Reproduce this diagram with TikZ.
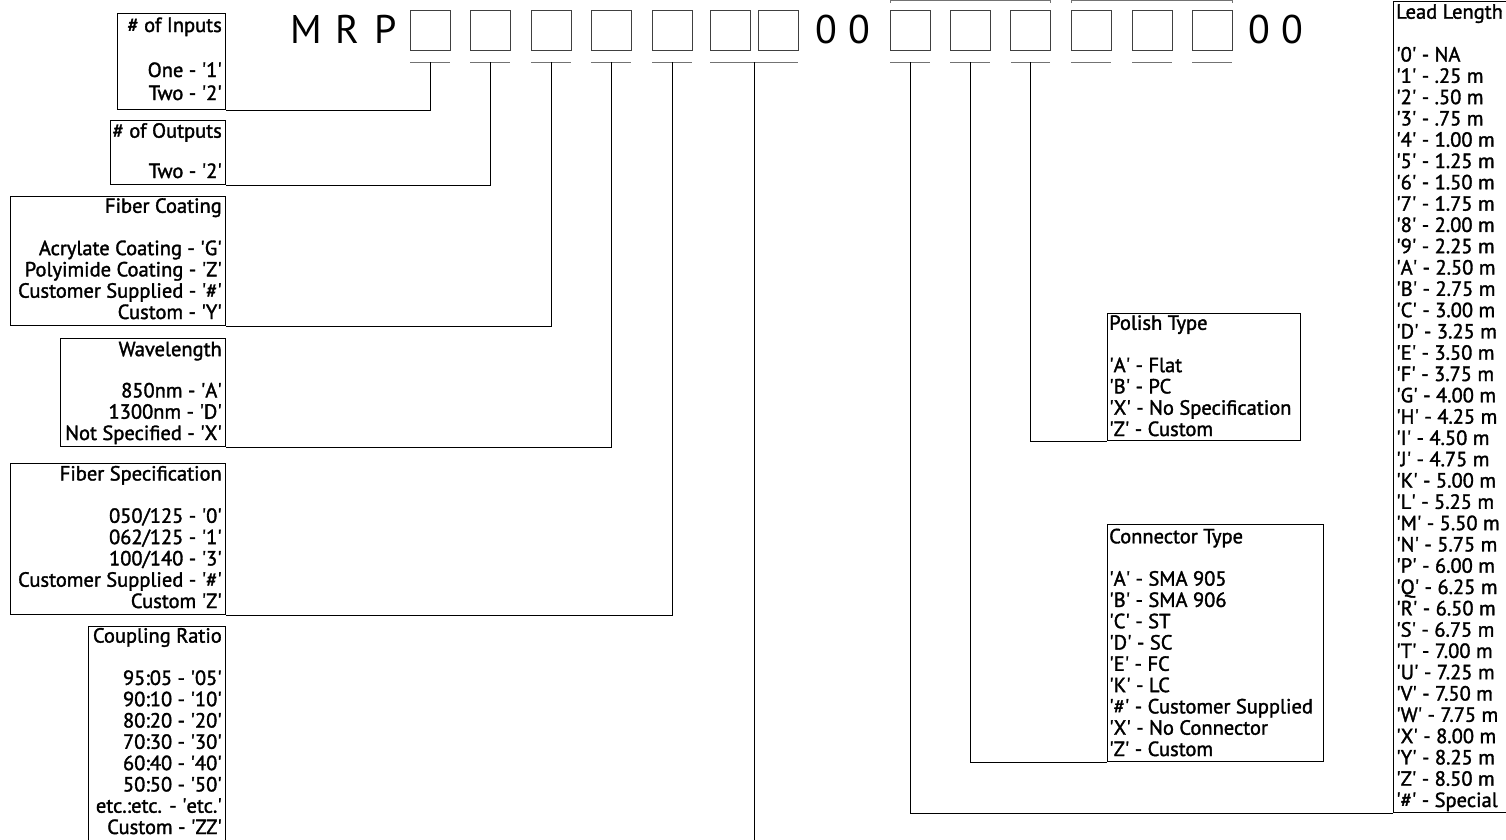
\documentclass[tikz,border=0pt]{standalone}
\usepackage{fontspec}
\newfontfamily\lab{PT Sans}[FakeBold=1.6]
\newfontfamily\labbig{PT Sans}
\newcommand\qq[1]{\textquotesingle#1\textquotesingle}
\tikzset{
  lbl/.style={font=\lab\fontsize{20.5}{21.3}\selectfont, inner sep=0pt},
  big/.style={font=\labbig\fontsize{40}{40}\selectfont, inner sep=0pt, anchor=base west},
  codebox/.style={draw=black!75, line width=1pt, minimum width=40pt, minimum height=40pt, inner sep=0pt},
  infobox/.style={draw=black, line width=1pt, inner sep=0pt, anchor=north west},
  wire/.style={draw=black, line width=1pt},
  uline/.style={draw=black!55, line width=1pt},
}
\begin{document}
\begin{tikzpicture}[x=1pt,y=-1pt]
\useasboundingbox (0,0) rectangle (1506,839);
\clip (0,0) rectangle (1506,839);
% title
\node[big] (mrp) at (290,43) {M\hspace{14pt}R\hspace{15pt}P};
\node[big] (z1) at (815,43) {0\hspace{11pt}0};
\node[big] (z2) at (1248,43) {0\hspace{11pt}0};
% code squares
\node[codebox] (c1) at (430,30) {};
\node[codebox] (c2) at (490,30) {};
\node[codebox] (c3) at (551,30) {};
\node[codebox] (c4) at (611,30) {};
\node[codebox] (c5) at (672,30) {};
\node[codebox] (c6) at (730,30) {};
\node[codebox] (c7) at (778,30) {};
\node[codebox] (c8) at (910,30) {};
\node[codebox] (c9) at (970,30) {};
\node[codebox] (c10) at (1030,30) {};
\node[codebox] (c11) at (1091,30) {};
\node[codebox] (c12) at (1152,30) {};
\node[codebox] (c13) at (1212,30) {};
% underlines
\foreach \a/\b in {410/450,470/510,531/571,591/631,652/692,710/798,890/930,950/990,1011/1050,1071/1111,1132/1172,1192/1232}
  \draw[uline] (\a,62) -- (\b,62);
\coordinate (u1) at (430,62);
\coordinate (u2) at (490,62);
\coordinate (u3) at (551,62);
\coordinate (u4) at (611,62);
\coordinate (u5) at (672,62);
\coordinate (u6) at (754,62);
\coordinate (u8) at (910,62);
\coordinate (u9) at (970,62);
\coordinate (u10) at (1030,62);
\coordinate (cend) at (754,850);
% partial brackets at the top edge
\draw[uline] (890,3) -- (890,0.5) -- (1050,0.5) -- (1050,3);
\draw[uline] (1071,3) -- (1071,0.5) -- (1232,0.5) -- (1232,3);
% info boxes
\node[infobox, minimum width=108pt, minimum height=96pt] (inputs) at (117,13) {};
\node[infobox, minimum width=115pt, minimum height=64pt] (outputs) at (110,120) {};
\node[infobox, minimum width=215pt, minimum height=129pt] (coating) at (10,196) {};
\node[infobox, minimum width=165pt, minimum height=108pt] (wave) at (60,338) {};
\node[infobox, minimum width=215pt, minimum height=151pt] (spec) at (10,463) {};
\node[infobox, minimum width=137pt, minimum height=230pt] (coupling) at (88,626) {};
\node[infobox, minimum width=193pt, minimum height=127pt] (polish) at (1107,313) {};
\node[infobox, minimum width=216pt, minimum height=237pt] (conn) at (1107,524) {};
\node[infobox, minimum width=130pt, minimum height=811pt] (lead) at (1393,1) {};
% connectors
\draw[wire] (u1) |- (inputs.south east);
\draw[wire] (u2) |- (outputs.south east);
\draw[wire] (u3) |- (coating.south east);
\draw[wire] (u4) |- (wave.south east);
\draw[wire] (u5) |- (spec.south east);
\draw[wire] (u6) -- (cend);
\draw[wire] (u8) |- (lead.south west);
\draw[wire] (u9) |- (conn.south west);
\draw[wire] (u10) |- (polish.south west);
% texts (anchored at the baseline of their last line)
\node[lbl, align=right, anchor=base east, font=\lab\fontsize{20.5}{23}\selectfont] (tinputs) at (222,100)
  {\# of Inputs\\[22pt]One - \qq{1}\\Two - \qq{2}};
\node[lbl, align=right, anchor=base east] (toutputs) at (222,178)
  {\# of Outputs\\[19pt]Two - \qq{2}};
\node[lbl, align=right, anchor=base east] (tcoating) at (222,319)
  {Fiber Coating\\[21pt]Acrylate Coating - \qq{G}\\Polyimide Coating - \qq{Z}\\Customer Supplied - \qq{\#}\\Custom - \qq{Y}};
\node[lbl, align=right, anchor=base east] (twave) at (222,440)
  {Wavelength\\[20pt]850nm - \qq{A}\\1300nm - \qq{D}\\Not Specified - \qq{X}};
\node[lbl, align=right, anchor=base east] (tspec) at (222,608)
  {Fiber Specification\\[21pt]050/125 - \qq{0}\\062/125 - \qq{1}\\100/140 - \qq{3}\\Customer Supplied - \qq{\#}\\Custom \qq{Z}};
\node[lbl, align=right, anchor=base east] (tcoupling) at (222,834)
  {Coupling Ratio\\[21pt]95:05 - \qq{05}\\90:10 - \qq{10}\\80:20 - \qq{20}\\70:30 - \qq{30}\\60:40 - \qq{40}\\50:50 - \qq{50}\\etc.:etc. - \qq{etc.}\\Custom - \qq{ZZ}};
\node[lbl, align=left, anchor=base west] (tpolish) at (1109,436)
  {Polish Type\\[21pt]\qq{A} - Flat\\\qq{B} - PC\\\qq{X} - No Specification\\\qq{Z} - Custom};
\node[lbl, align=left, anchor=base west] (tconn) at (1109,756)
  {Connector Type\\[21pt]\qq{A} - SMA 905\\\qq{B} - SMA 906\\\qq{C} - ST\\\qq{D} - SC\\\qq{E} - FC\\\qq{K} - LC\\\qq{\#} - Customer Supplied\\\qq{X} - No Connector\\\qq{Z} - Custom};
\node[lbl, align=left, anchor=base west] (tlead) at (1396,807)
  {Lead Length\\[21.5pt]\qq{0} - NA\\\qq{1} - .25 m\\\qq{2} - .50 m\\\qq{3} - .75 m\\\qq{4} - 1.00 m\\\qq{5} - 1.25 m\\\qq{6} - 1.50 m\\\qq{7} - 1.75 m\\\qq{8} - 2.00 m\\\qq{9} - 2.25 m\\\qq{A} - 2.50 m\\\qq{B} - 2.75 m\\\qq{C} - 3.00 m\\\qq{D} - 3.25 m\\\qq{E} - 3.50 m\\\qq{F} - 3.75 m\\\qq{G} - 4.00 m\\\qq{H} - 4.25 m\\\qq{I} - 4.50 m\\\qq{J} - 4.75 m\\\qq{K} - 5.00 m\\\qq{L} - 5.25 m\\\qq{M} - 5.50 m\\\qq{N} - 5.75 m\\\qq{P} - 6.00 m\\\qq{Q} - 6.25 m\\\qq{R} - 6.50 m\\\qq{S} - 6.75 m\\\qq{T} - 7.00 m\\\qq{U} - 7.25 m\\\qq{V} - 7.50 m\\\qq{W} - 7.75 m\\\qq{X} - 8.00 m\\\qq{Y} - 8.25 m\\\qq{Z} - 8.50 m\\\qq{\#} - Special};
\end{tikzpicture}
\end{document}
